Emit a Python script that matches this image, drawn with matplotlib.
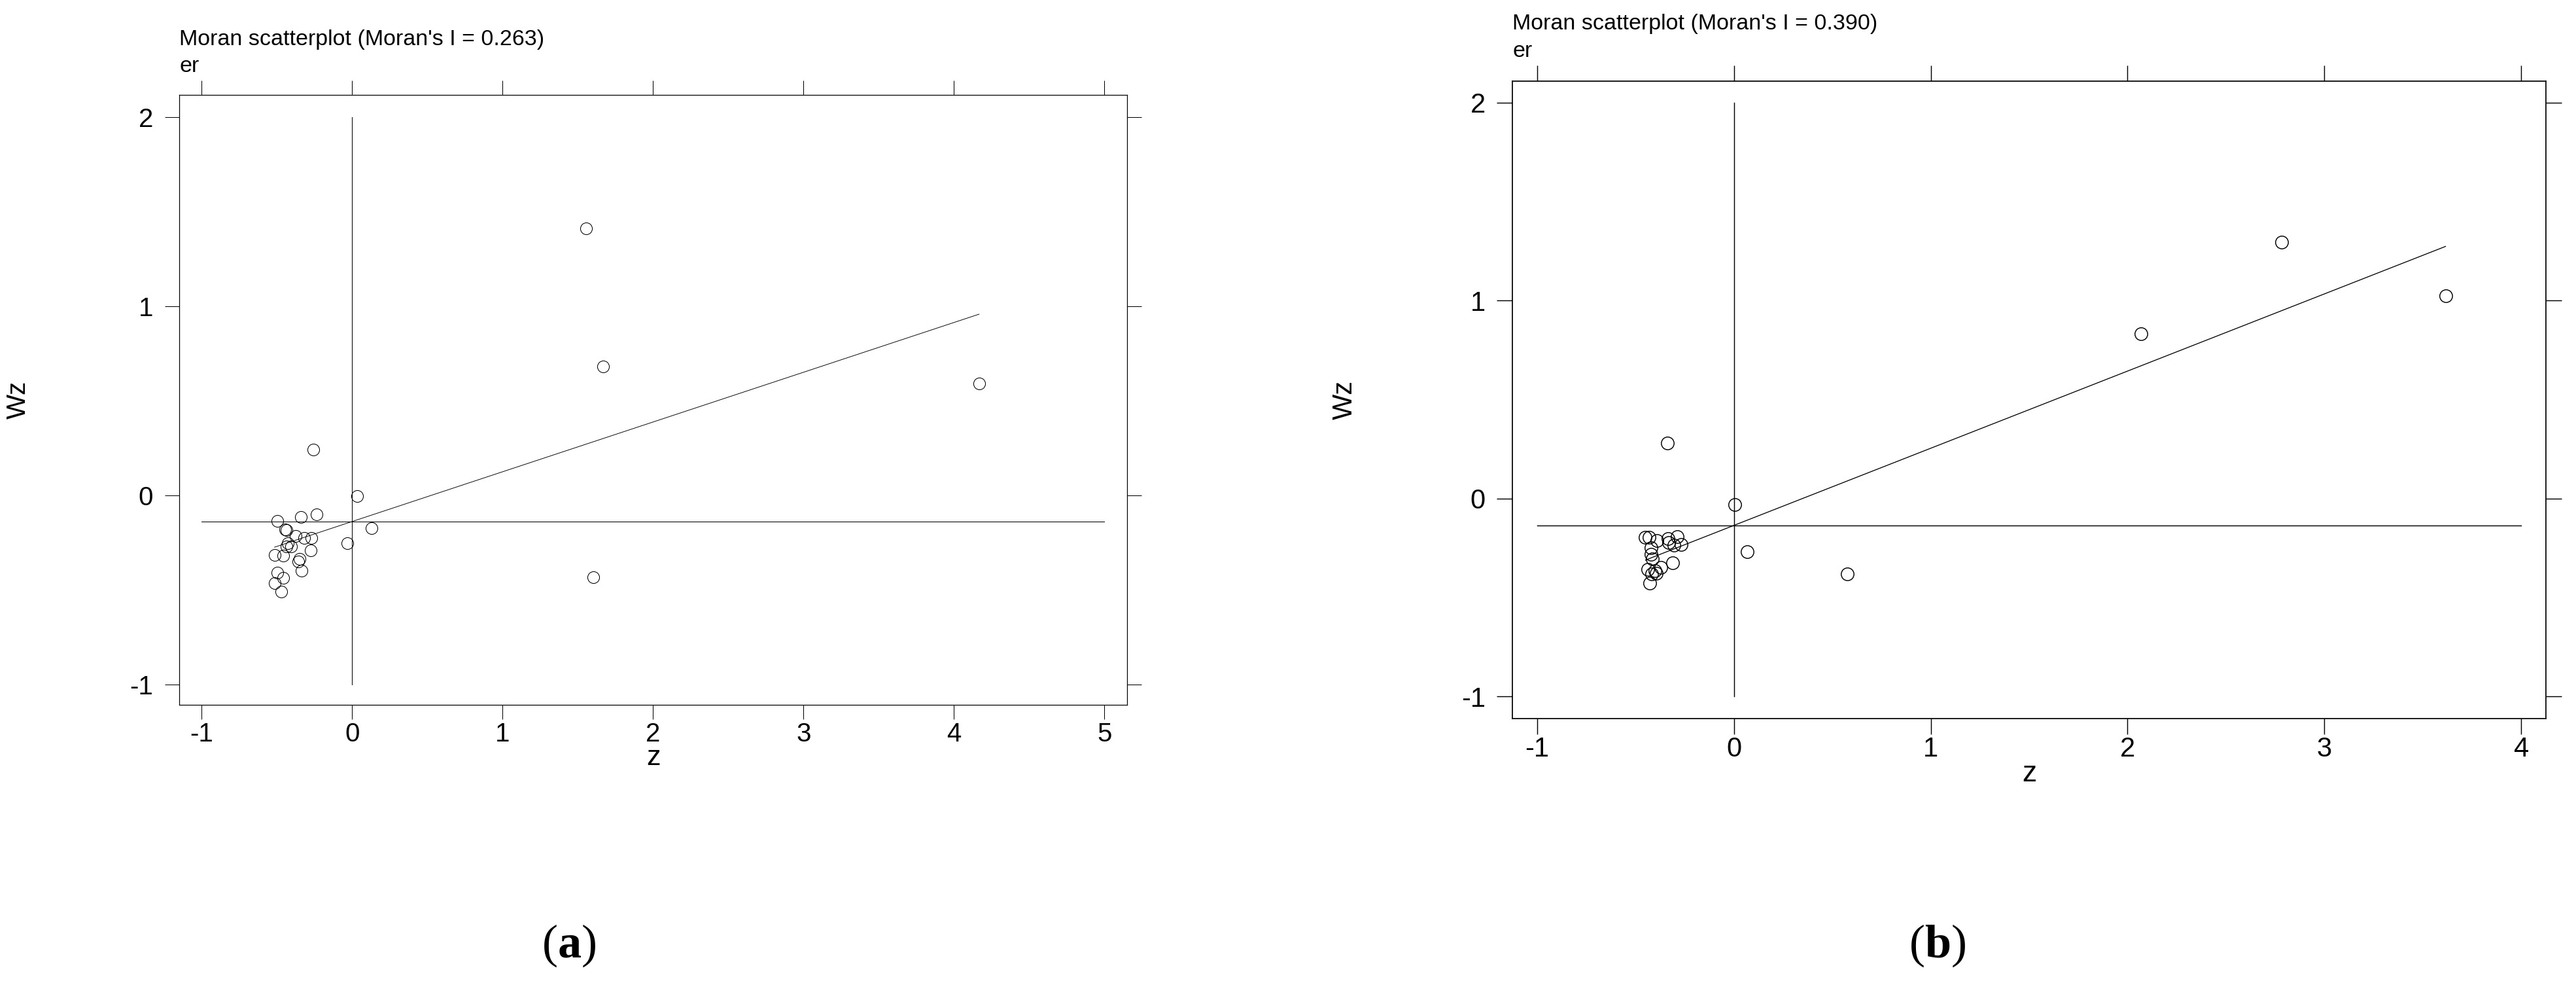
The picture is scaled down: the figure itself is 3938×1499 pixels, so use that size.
import matplotlib
matplotlib.use('Agg')
import matplotlib.pyplot as plt
import numpy as np

plt.rcParams['font.family'] = ['Liberation Sans', 'DejaVu Sans']
plt.rcParams['axes.unicode_minus'] = False
plt.rcParams['mathtext.fontset'] = 'custom'
plt.rcParams['mathtext.rm'] = 'Liberation Serif'
plt.rcParams['mathtext.bf'] = 'Liberation Serif:bold'

# panel (a)
z_a = [1.557, 1.667, 4.167, 1.602, -0.259, 0.032, -0.496, -0.340, -0.237, 0.130,
       -0.445, -0.436, -0.374, -0.319, -0.270, -0.427, -0.404, -0.436, -0.274, -0.516,
       -0.459, -0.348, -0.357, -0.338, -0.030, -0.496, -0.457, -0.513, -0.469]
wz_a = [1.413, 0.681, 0.591, -0.432, 0.241, -0.005, -0.136, -0.115, -0.100, -0.174,
        -0.180, -0.184, -0.216, -0.224, -0.224, -0.253, -0.271, -0.271, -0.290, -0.316,
        -0.317, -0.334, -0.351, -0.398, -0.253, -0.407, -0.436, -0.463, -0.507]
moran_a = 0.263
wz_mean_a = -0.138

# panel (b)
z_b = [2.781, 3.615, 2.067, -0.337, 0.004, 0.575, 0.069,
       -0.449, -0.429, -0.391, -0.333, -0.287, -0.330, -0.305, -0.267, -0.419, -0.419,
       -0.413, -0.311, -0.371, -0.437, -0.402, -0.418, -0.395, -0.426]
wz_b = [1.297, 1.023, 0.831, 0.280, -0.032, -0.382, -0.269,
        -0.195, -0.197, -0.213, -0.204, -0.191, -0.224, -0.237, -0.231, -0.250, -0.281,
        -0.305, -0.326, -0.349, -0.358, -0.364, -0.380, -0.378, -0.427]
moran_b = 0.390
wz_mean_b = -0.136

xticks_a = [-1, 0, 1, 2, 3, 4, 5]
xticks_b = [-1, 0, 1, 2, 3, 4]
yticks = [-1, 0, 1, 2]


def moran_panel(ax, z, wz, moran, wz_mean, xticks, xlim, ylim, lw, ms, tl, fs):
    """one Moran scatterplot, Stata style"""
    z = np.array(z)
    # cross lines at the means
    ax.plot([xticks[0], xticks[-1]], [wz_mean, wz_mean], color='black', lw=lw)
    ax.plot([0, 0], [yticks[0], yticks[-1]], color='black', lw=lw)
    # fitted line, slope = Moran's I
    xs = np.array([z.min(), z.max()])
    ax.plot(xs, wz_mean + moran * xs, color='black', lw=lw * 0.9)
    ax.plot(z, wz, 'o', mfc='none', mec='black', ms=ms, mew=lw)

    ax.set_xlim(xlim)
    ax.set_ylim(ylim)
    ax.set_xticks(xticks)
    ax.set_yticks(yticks)
    for s in ax.spines.values():
        s.set_linewidth(lw * 1.2)
    ax.tick_params(direction='out', length=tl, width=lw, top=True, right=True,
                   labeltop=False, labelright=False, labelsize=fs)
    ax.tick_params(axis='x', pad=2.5)
    ax.tick_params(axis='y', pad=13)

    ax.text(0.0, 1.0815, "Moran scatterplot (Moran's I = %.3f)" % moran,
            transform=ax.transAxes, ha='left', va='baseline', fontsize=24.5)
    ax.text(0.0, 1.0375, 'er', transform=ax.transAxes, ha='left', va='baseline', fontsize=24.5)


fig = plt.figure(figsize=(39.38, 14.99), dpi=100)

ax1 = fig.add_axes([0.06966, 0.28132, 0.36795, 0.62195])
moran_panel(ax1, z_a, wz_a, moran_a, wz_mean_a, xticks_a,
            (-1.148, 5.152), (-1.108, 2.117), 0.75, 13, 16, 29)
ax1.text(0.5, -0.0984, 'z', transform=ax1.transAxes, ha='center', va='baseline', fontsize=31)
ax1.text(-0.1703, 0.5, 'Wz', transform=ax1.transAxes, ha='center', va='center',
         rotation=90, fontsize=29)

ax2 = fig.add_axes([0.58718, 0.26771, 0.40122, 0.64957])
moran_panel(ax2, z_b, wz_b, moran_b, wz_mean_b, xticks_b,
            (-1.124, 4.126), (-1.111, 2.109), 1.05, 14, 17, 30)
ax2.text(0.5, -0.0992, 'z', transform=ax2.transAxes, ha='center', va='baseline', fontsize=32)
ax2.text(-0.1625, 0.5, 'Wz', transform=ax2.transAxes, ha='center', va='center',
         rotation=90, fontsize=30)

fig.text(870 / 3938, 1 - 1445 / 1499, r'$(\mathbf{a})$', ha='center', va='center', fontsize=52)
fig.text(2962 / 3938, 1 - 1445 / 1499, r'$(\mathbf{b})$', ha='center', va='center', fontsize=52)

plt.savefig('out.png', dpi=100)
